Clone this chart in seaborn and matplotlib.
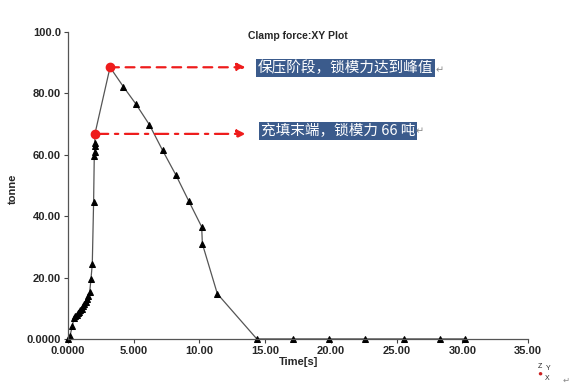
import numpy as np
import pandas as pd
import matplotlib
matplotlib.use("Agg")
import matplotlib.pyplot as plt
import seaborn as sns

# Data
time_s = [0.0, 0.15, 0.33, 0.46, 0.55, 0.65, 0.75, 0.85, 0.95, 1.05, 1.15, 1.25,
          1.35, 1.45, 1.55, 1.65, 1.75, 1.85, 1.95, 2.0, 2.02, 2.03, 2.04, 2.05,
          3.2, 4.21, 5.17, 6.19, 7.2, 8.22, 9.2, 10.17, 10.22, 11.36, 14.36,
          17.1, 19.84, 22.58, 25.57, 28.3, 30.2]
force_t = [0.0, 0.9, 4.2, 6.9, 7.4, 7.9, 8.3, 8.8, 9.3, 9.9, 10.6, 11.3,
           12.1, 13.0, 14.0, 15.2, 19.5, 24.5, 44.6, 59.5, 61.0, 62.7, 63.8, 66.8,
           88.5, 82.2, 76.5, 69.8, 61.4, 53.3, 44.8, 36.5, 31.0, 14.7, 0.0,
           0.0, 0.0, 0.0, 0.0, 0.0, 0.0]
fill_end = (2.05, 66.8)
peak = (3.2, 88.5)
arrow_end_x = 13.5
x_ticks = [0, 5, 10, 15, 20, 25, 30, 35]
x_tick_labels = ["0.0000", "5.000", "10.00", "15.00", "20.00", "25.00", "30.00", "35.00"]
y_ticks = [0, 20, 40, 60, 80, 100]
y_tick_labels = ["0.0000", "20.00", "40.00", "60.00", "80.00", "100.0"]
note_peak = "保压阶段，锁模力达到峰值"
note_fill = "充填末端，锁模力 66 吨"

sns.set_theme(style="white")
plt.rcParams["font.family"] = ["Liberation Sans", "Noto Sans CJK SC", "DejaVu Sans"]

fig = plt.figure(figsize=(5.76, 3.9), dpi=100)
ax = fig.add_axes([0.118, 0.131, 0.799, 0.787])

df = pd.DataFrame({"t": time_s, "f": force_t})
sns.lineplot(data=df, x="t", y="f", sort=False, estimator=None, ax=ax,
             color="#555555", linewidth=0.9, marker="^", markersize=5,
             markerfacecolor="black", markeredgecolor="black", clip_on=False)

red = "#ee1c1c"
# arrows
ax.annotate("", xy=(arrow_end_x, peak[1]), xytext=(peak[0], peak[1]),
            arrowprops=dict(arrowstyle="-|>", color=red, lw=1.6, linestyle=(0, (4, 3)),
                            mutation_scale=12, shrinkA=0, shrinkB=0))
ax.annotate("", xy=(arrow_end_x, fill_end[1]), xytext=(fill_end[0], fill_end[1]),
            arrowprops=dict(arrowstyle="-|>", color=red, lw=1.6, linestyle=(0, (6, 3, 1.5, 3)),
                            mutation_scale=12, shrinkA=0, shrinkB=0))
ax.plot([peak[0], fill_end[0]], [peak[1], fill_end[1]], "o", color=red, markersize=6, zorder=5)

box = dict(boxstyle="square,pad=0.12", facecolor="#3B5B8C", edgecolor="none")
fig.text(258 / 576, 1 - 68 / 390, note_peak, color="white", fontsize=10.5,
         va="center", ha="left", bbox=box, family=["Noto Sans CJK SC", "DejaVu Sans"])
fig.text(436 / 576, 1 - 70 / 390, "↵", color="#888888", fontsize=7, va="center", ha="left",
         family=["DejaVu Sans"])
fig.text(261 / 576, 1 - 131 / 390, note_fill, color="white", fontsize=10.5,
         va="center", ha="left", bbox=box, family=["Noto Sans CJK SC", "DejaVu Sans"])
fig.text(416 / 576, 1 - 131 / 390, "↵", color="#888888", fontsize=7, va="center", ha="left",
         family=["DejaVu Sans"])

ax.set_xlim(0, 35)
ax.set_ylim(0, 100)
ax.set_xticks(x_ticks)
ax.set_xticklabels(x_tick_labels)
ax.set_yticks(y_ticks)
ax.set_yticklabels(y_tick_labels)
for lab in ax.get_xticklabels() + ax.get_yticklabels():
    lab.set_fontweight("bold")
    lab.set_fontsize(8)
ax.tick_params(axis="both", which="both", direction="out", length=3, width=0.8,
               color="#444444", pad=2, left=True, bottom=True)
ax.set_xlabel("Time[s]", fontsize=8, fontweight="bold", labelpad=1)
ax.set_ylabel("tonne", fontsize=8, fontweight="bold")
ax.yaxis.set_label_coords(-50 / 460, 0.49)
for s in ["top", "right"]:
    ax.spines[s].set_visible(False)
for s in ["left", "bottom"]:
    ax.spines[s].set_color("#555555")
    ax.spines[s].set_linewidth(0.9)

fig.text(298 / 576, 1 - 36 / 390, "Clamp force:XY Plot", fontsize=7.5, fontweight="bold",
         ha="center", va="center")

# small axis triad glyph text in lower right
fig.text(538 / 576, 1 - 366 / 390, "Z", fontsize=5, ha="left", va="center")
fig.text(546 / 576, 1 - 368 / 390, "Y", fontsize=5, ha="left", va="center")
fig.text(545 / 576, 1 - 379 / 390, "X", fontsize=5, ha="left", va="center")
fig.text(540 / 576, 1 - 374 / 390, "●", fontsize=6, color="#cc2222", ha="center", va="center")
fig.text(563 / 576, 1 - 381 / 390, "↵", fontsize=6, color="#888888", ha="left", va="center")

fig.savefig("out.png", dpi=100, facecolor="white")
